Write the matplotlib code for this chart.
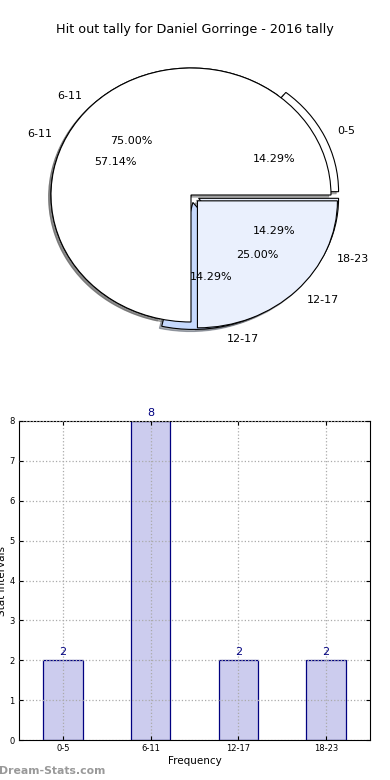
import matplotlib.pyplot as plt

W, H = 390, 780

labels = ["0-5", "6-11", "12-17", "18-23"]
counts = [2, 8, 2, 2]
pie2_labels = ["6-11", "12-17"]
pie2_counts = [6, 2]
title = "Hit out tally for Daniel Gorringe - 2016 tally"


def main():
    fig = plt.figure(figsize=(W / 100, H / 100), dpi=100)
    fig.text(0.5, 1 - 30 / H, title, ha="center", va="center", fontsize=9.2)

    # pie axes, stretched a bit like the original (not circular)
    cx, cy, rx, ry = 191, 195, 140, 127
    ax = fig.add_axes([(cx - rx) / W, 1 - (cy + ry) / H, 2 * rx / W, 2 * ry / H])
    wp = dict(edgecolor="black", linewidth=0.8)
    sh = dict(ox=-0.012, oy=-0.012, shade=0.6)
    ax.pie(counts, labels=labels, autopct="%.2f%%", startangle=0,
           colors=["white", "white", "#c6d9fd", "#eaf0fd"],
           explode=[0.06, 0, 0.06, 0.06], shadow=sh, labeldistance=1.1,
           pctdistance=0.6, wedgeprops=wp, textprops=dict(fontsize=8))
    ax.pie(pie2_counts, labels=pie2_labels, autopct="%.2f%%", startangle=0,
           colors=["white", "#eaf0fd"], explode=[0, 0.065], shadow=sh,
           labeldistance=1.1, pctdistance=0.6, wedgeprops=wp,
           textprops=dict(fontsize=8))
    ax.set_aspect("auto")
    ax.set_xlim(-1, 1)
    ax.set_ylim(-1, 1)
    ax.axis("off")

    # bar chart
    bx = fig.add_axes([19 / W, 1 - 740 / H, (370 - 19) / W, (740 - 421) / H])
    x = list(range(len(labels)))
    bx.bar(x, counts, width=0.45, color="#ccccee", edgecolor="#000080",
           linewidth=0.9, zorder=2)
    for xi, c in zip(x, counts):
        bx.text(xi, c + 0.08, str(c), ha="center", va="bottom",
                color="#000080", fontsize=8)
    bx.set_xlim(-0.5, 3.5)
    bx.set_ylim(0, 8)
    bx.set_xticks(x)
    bx.set_xticklabels(labels)
    bx.set_yticks(range(9))
    bx.tick_params(direction="in", labelsize=6, top=True, right=True,
                   length=3, pad=3)
    bx.grid(True, linestyle=":", color="#aaaaaa", linewidth=0.9, zorder=3)
    bx.set_axisbelow(False)
    bx.set_xlabel("Frequency", fontsize=7.5, labelpad=2)
    bx.set_ylabel("Stat Intervals", fontsize=7.5, labelpad=2)

    fig.text(-1 / W, 1 - 771 / H, "Dream-Stats.com", fontsize=7.8,
             color="#999999", fontweight="bold", va="center")
    fig.savefig("out.png", dpi=100)


if __name__ == "__main__":
    main()
